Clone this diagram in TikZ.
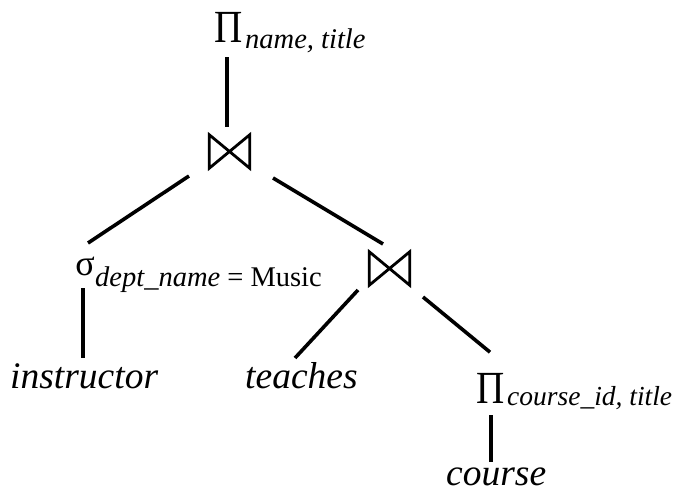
\documentclass[tikz,border=0pt]{standalone}
\usepackage{fontspec}
\setmainfont{Liberation Serif}
\usetikzlibrary{calc}
\begin{document}
\begin{tikzpicture}[x=1pt,y=-1pt,
  edge/.style={line width=3.6pt},
  opnode/.style={inner sep=0pt, anchor=base, font=\fontsize{46}{46}\selectfont},
  signode/.style={inner sep=0pt, anchor=base, font=\fontsize{36}{36}\selectfont},
  subnode/.style={inner sep=0pt, anchor=base west, font=\fontsize{28.5}{28.5}\selectfont\itshape},
  relnode/.style={inner sep=0pt, anchor=base west, font=\fontsize{37.5}{37.5}\selectfont\itshape},
  joinbox/.style={minimum width=40pt, minimum height=33pt, inner sep=0pt},
  tie/.style={line width=2.8pt, line join=miter}]
\useasboundingbox (0,0) rectangle (674,492);
% projection top
\node[opnode] (p1) at (229,43) {\scalebox{0.85}[1]{Π}};
\node[subnode] (p1s) at (245,49) {name, title};
% join 1
\node[joinbox] (j1) at (229.5,151.5) {};
\draw[tie] (j1.north west) -- (j1.south west) -- (j1.north east) -- (j1.south east) -- cycle;
% selection
\node[signode] (s1) at (85,275) {σ};
\node[subnode] (s1s) at (95,286) {dept\_name {\upshape = Music}};
% join 2
\node[joinbox] (j2) at (389.5,268.5) {};
\draw[tie] (j2.north west) -- (j2.south west) -- (j2.north east) -- (j2.south east) -- cycle;
% projection bottom
\node[opnode] (p2) at (490.5,403) {\scalebox{0.85}[1]{Π}};
\node[subnode, font=\fontsize{27.5}{27.5}\selectfont\itshape] (p2s) at (507,405.5) {course\_id, title};
% relations
\node[relnode] (instr) at (10,388) {instructor};
\node[relnode] (teach) at (245,388) {teaches};
\node[relnode] (course) at (446,485.5) {course};
% connectors
\draw[edge] ($(p1.south)+(-2,14)$) -- ($(j1.center)+(-2.5,-24.5)$);
\draw[edge] ($(j1.center)+(-40.5,24.5)$) -- ($(s1.base)+(3,-32)$);
\draw[edge] ($(j1.center)+(43.5,26.5)$) -- ($(j2.center)+(-6.5,-24.5)$);
\draw[edge] ($(s1.base)+(-2,13)$) -- ($(instr.base west)+(73,-30)$);
\draw[edge] ($(j2.center)+(-31.5,21.5)$) -- ($(teach.base west)+(50,-30)$);
\draw[edge] ($(j2.center)+(33.5,28.5)$) -- ($(p2.north)+(-0.5,-20.5)$);
\draw[edge] ($(p2.south)+(0.5,12)$) -- ($(course.base west)+(45,-23.5)$);
\end{tikzpicture}
\end{document}
